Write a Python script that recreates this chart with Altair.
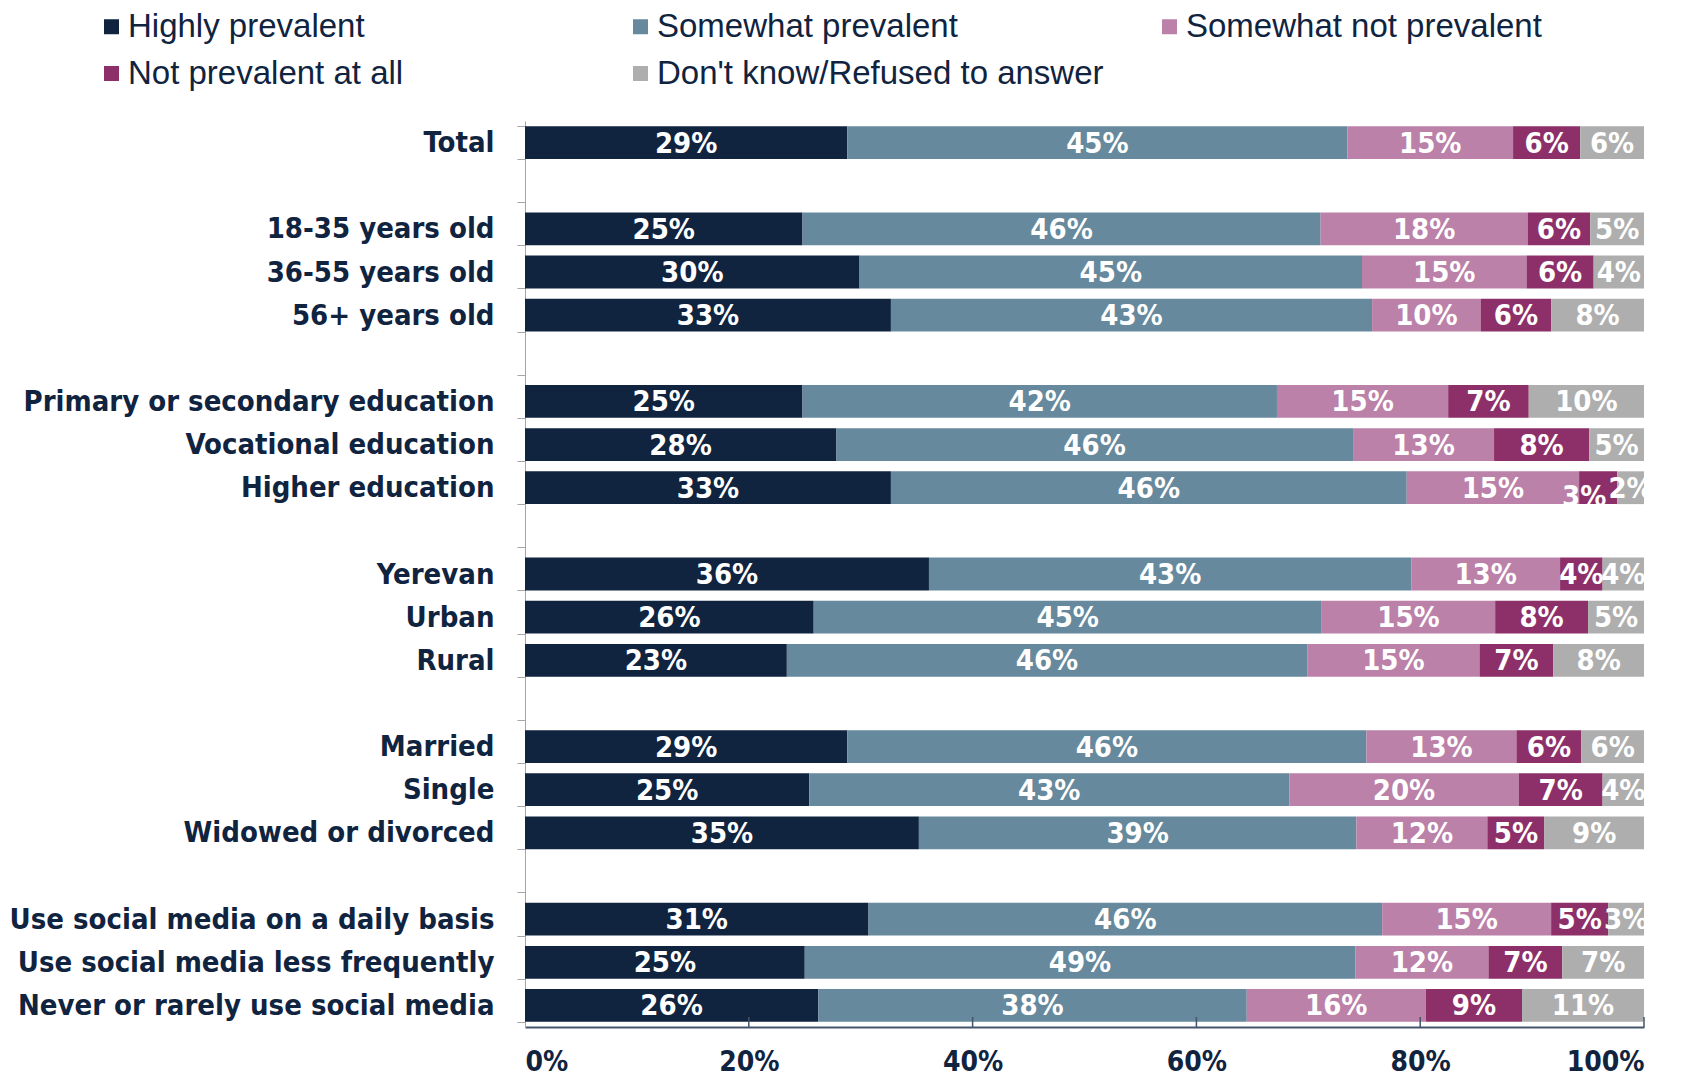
import altair as alt
import pandas as pd

# Row order (blank strings are the spacer rows between groups)
rows = ["Total", " ",
        "18-35 years old", "36-55 years old", "56+ years old", "  ",
        "Primary or secondary education", "Vocational education", "Higher education", "   ",
        "Yerevan", "Urban", "Rural", "    ",
        "Married", "Single", "Widowed or divorced", "     ",
        "Use social media on a daily basis", "Use social media less frequently",
        "Never or rarely use social media"]

categories = ["Total", "18-35 years old", "36-55 years old", "56+ years old",
              "Primary or secondary education", "Vocational education", "Higher education",
              "Yerevan", "Urban", "Rural", "Married", "Single", "Widowed or divorced",
              "Use social media on a daily basis", "Use social media less frequently",
              "Never or rarely use social media"]

series = ["Highly prevalent", "Somewhat prevalent", "Somewhat not prevalent",
          "Not prevalent at all", "Don't know/Refused to answer"]
colors = ["#10233f", "#66899d", "#bb81a8", "#8d3069", "#aeaeae"]

highly =       [28.8, 24.8, 29.9, 32.7, 24.8, 27.8, 32.7, 36.1, 25.8, 23.4, 28.8, 25.4, 35.2, 30.7, 25.0, 26.2]
somewhat =     [44.7, 46.3, 44.9, 43.0, 42.4, 46.2, 46.1, 43.1, 45.4, 46.5, 46.4, 42.9, 39.1, 45.9, 49.2, 38.3]
somewhat_not = [14.8, 18.5, 14.7,  9.7, 15.3, 12.6, 15.4, 13.3, 15.5, 15.4, 13.4, 20.5, 11.7, 15.1, 11.9, 16.0]
not_at_all =   [ 6.0,  5.6,  6.0,  6.3,  7.2,  8.5,  3.4,  3.8,  8.3,  6.6,  5.8,  7.5,  5.1,  5.1,  6.6,  8.6]
dont_know =    [ 5.7,  4.8,  4.5,  8.3, 10.3,  4.9,  2.4,  3.7,  5.0,  8.1,  5.6,  3.7,  8.9,  3.2,  7.3, 10.9]

lab_highly =       [29, 25, 30, 33, 25, 28, 33, 36, 26, 23, 29, 25, 35, 31, 25, 26]
lab_somewhat =     [45, 46, 45, 43, 42, 46, 46, 43, 45, 46, 46, 43, 39, 46, 49, 38]
lab_somewhat_not = [15, 18, 15, 10, 15, 13, 15, 13, 15, 15, 13, 20, 12, 15, 12, 16]
lab_not_at_all =   [6, 6, 6, 6, 7, 8, 3, 4, 8, 7, 6, 7, 5, 5, 7, 9]
lab_dont_know =    [6, 5, 4, 8, 10, 5, 2, 4, 5, 8, 6, 4, 9, 3, 7, 11]

# the one label that sits nudged below its segment in the original
nudged = [("Higher education", "Not prevalent at all")]

x_ticks = [0, 20, 40, 60, 80, 100]

vals = [highly, somewhat, somewhat_not, not_at_all, dont_know]
labs = [lab_highly, lab_somewhat, lab_somewhat_not, lab_not_at_all, lab_dont_know]

recs = []
for i, cat in enumerate(categories):
    total = sum(v[i] for v in vals)
    start = 0.0
    for s, name in enumerate(series):
        w = vals[s][i] / total * 100
        recs.append({"row": cat, "series": name, "order": s,
                     "start": start, "end": start + w, "mid": start + w / 2,
                     "label": f"{labs[s][i]}%", "nudge": (cat, name) in nudged})
        start += w
df = pd.DataFrame(recs)
ticks_df = pd.DataFrame({"t": x_ticks[1:]})

W, H = 1119, 906
NAVY = "#10233f"
LFONT = "DejaVu Sans Condensed"

y_enc = alt.Y("row:N", sort=rows, scale=alt.Scale(domain=rows, paddingInner=0.24, paddingOuter=0.12),
              axis=alt.Axis(title=None, labelFont=LFONT, labelFontWeight="bold", labelFontSize=29,
                            labelColor=NAVY, tickBand="extent", tickColor="#a6a6a6",
                            domainColor="#a6a6a6", tickSize=8, labelPadding=23, labelLimit=800))
x_scale = alt.Scale(domain=[0, 100], nice=False)

bars = alt.Chart(df).mark_bar().encode(
    x=alt.X("start:Q", scale=x_scale,
            axis=alt.Axis(title=None, values=x_ticks, labelExpr="datum.value + '%'",
                          labelFont=LFONT, labelFontWeight="bold", labelFontSize=28,
                          labelColor=NAVY, ticks=False, grid=False, domainColor="#44546a",
                          domainWidth=2, labelPadding=21)),
    x2="end:Q",
    y=y_enc,
    color=alt.Color("series:N", scale=alt.Scale(domain=series, range=colors),
                    legend=alt.Legend(title=None, orient="none", legendX=-430, legendY=-111,
                                      direction="horizontal",
                                      columns=3, gridAlign="all", columnPadding=49,
                                      rowPadding=13, symbolType="square", symbolSize=225,
                                      symbolStrokeWidth=0, labelFont="Liberation Sans",
                                      labelFontSize=33, labelColor=NAVY, labelLimit=800,
                                      labelOffset=0)),
    order="order:Q",
)

text_style = dict(color="white", font=LFONT, fontWeight="bold", fontSize=29,
                  baseline="middle", clip=True)

texts = alt.Chart(df).transform_filter("!datum.nudge").mark_text(dy=1, **text_style).encode(
    x=alt.X("mid:Q", scale=x_scale),
    y=alt.Y("row:N", sort=rows, scale=alt.Scale(domain=rows)),
    text="label:N",
)

texts_nudged = alt.Chart(df).transform_filter("datum.nudge").mark_text(dx=-14, dy=9, **text_style).encode(
    x=alt.X("mid:Q", scale=x_scale),
    y=alt.Y("row:N", sort=rows, scale=alt.Scale(domain=rows)),
    text="label:N",
)

tick_rules = alt.Chart(ticks_df).mark_rule(color="#44546a", strokeWidth=1.5).encode(
    x=alt.X("t:Q", scale=x_scale),
    y=alt.value(H - 10),
    y2=alt.value(H),
)

chart = alt.layer(bars, texts, texts_nudged, tick_rules).properties(
    width=W, height=H, padding={"left": 1, "top": 2, "right": 10, "bottom": 0}
).configure_view(stroke=None)

chart.save("out.html", embed_options={"renderer": "svg", "actions": False})
